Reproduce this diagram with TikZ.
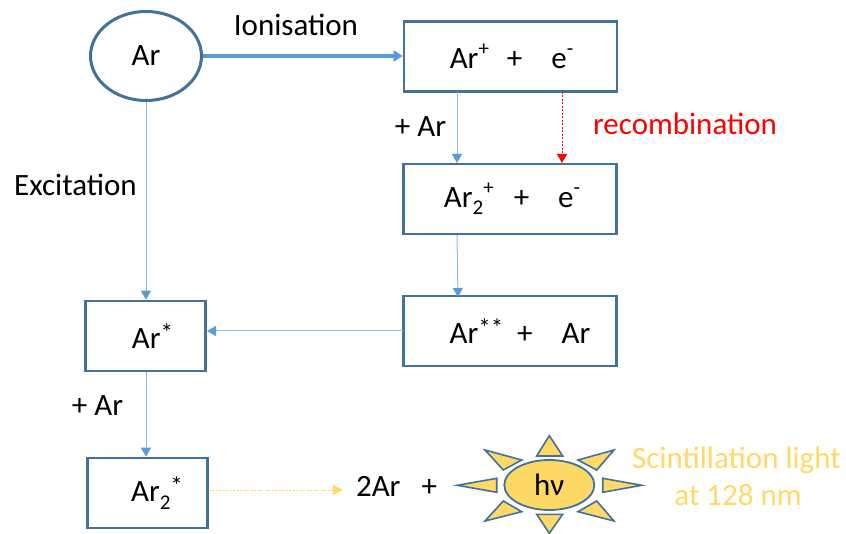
\documentclass[tikz,border=0pt]{standalone}
\usepackage{fontspec}
\setmainfont{Carlito}
\usetikzlibrary{arrows.meta,shapes.geometric}
\definecolor{edgeblue}{HTML}{41719C}
\definecolor{arrowblue}{HTML}{5B9BD5}
\definecolor{lineblue}{HTML}{8FBCE6}
\definecolor{sunyellow}{HTML}{FFD966}
\tikzset{
  x=1pt,y=-1pt,
  txt/.style={inner sep=0pt,font=\fontsize{31}{36}\selectfont,text=black,anchor=center},
  boxnode/.style={draw=edgeblue,line width=2.6pt,fill=white,rectangle,inner sep=0pt,minimum height=70pt,font=\fontsize{31}{36}\selectfont},
  wide/.style={boxnode,minimum width=213pt},
  narrow/.style={boxnode,minimum width=120pt},
  thinarrow/.style={draw=lineblue,line width=1pt,-{Triangle[length=9pt,width=10pt,color=arrowblue]}},
  ray/.style={draw=edgeblue,line width=1.6pt,fill=sunyellow,line join=miter},
}
\newcommand{\supr}[1]{\raisebox{.4em}{\fontsize{21}{21}\selectfont #1}}
\newcommand{\supa}[1]{\raisebox{.22em}{\fontsize{25}{25}\selectfont #1}}
\newcommand{\subr}[1]{\raisebox{-.24em}{\fontsize{21}{21}\selectfont #1}}
\begin{document}
\begin{tikzpicture}
\useasboundingbox (0,0) rectangle (846,534);
% process nodes
\node[draw=edgeblue,line width=3pt,fill=white,ellipse,inner sep=0pt,minimum width=111pt,minimum height=89pt,font=\fontsize{31}{36}\selectfont] (ar) at (146,56) {Ar};
\node[wide] (ion) at (510.5,56.5) {\hspace*{2pt}Ar\supr{+}\hspace{18pt}+\hspace{29pt}e\supr{-}};
\node[wide] (dimer) at (510,199) {\hspace*{4pt}Ar\subr{2}\supr{+}\hspace{20pt}+\hspace{29pt}e\supr{-}};
\node[wide] (ex2) at (510,331) {\hspace*{20pt}Ar\supa{**}\hspace{14pt}+\hspace{29pt}Ar};
\node[narrow] (exc) at (145.5,336) {\hspace*{14pt}Ar\supa{*}};
\node[narrow] (exd) at (147.5,493) {\hspace*{19pt}Ar\subr{2}\supa{*}};
% free ends on the box edges
\coordinate (ionA) at (457,92);
\coordinate (dimA) at (457,163);
\coordinate (ionB) at (562,92);
\coordinate (dimB) at (562,163);
\coordinate (dimC) at (457,235);
\coordinate (exA) at (458,297);
\coordinate (exL) at (403,331);
\coordinate (excR) at (207,331);
% labels
\node[txt] (lion) at (296,25) {Ionisation};
\node[txt] (lexc) at (75.5,185) {Excitation};
\node[txt] (lpa) at (420.5,127) {+ Ar};
\node[txt,text=red] (lrec) at (685,124) {recombination};
\node[txt] (lpb) at (97.5,406) {+ Ar};
\node[txt] (prod) at (396.5,486) {2Ar\hspace{21pt}+};
\node[txt,text=sunyellow] (scia) at (736.5,460) {Scintillation light};
\node[txt,text=sunyellow] (scib) at (738,495) {at 128 nm};
% connectors
\draw[arrowblue,line width=3.2pt,-{Triangle[length=9pt,width=11pt,color=arrowblue]}] (ar.east) -- (ion.west |- ar.east);
\draw[thinarrow] (ionA) -- (dimA);
\draw[draw=red,line width=.8pt,dash pattern=on 2pt off 1.5pt,-{Triangle[length=9pt,width=10pt,color=red]}] (ionB) -- (dimB);
\draw[thinarrow] (dimC) -- (exA);
\draw[thinarrow] (exL) -- (excR);
\draw[thinarrow] (ar.south) -- (exc.north -| ar.south);
\draw[thinarrow] (exc.south -| ar.south) -- (exd.north -| ar.south);
\draw[draw=sunyellow,line width=.8pt,dash pattern=on 2pt off 1.5pt,shorten >=13pt,-{Triangle[length=10pt,width=10pt,color=sunyellow]}] ([yshift=3pt]exd.east) -- ([yshift=-4pt]prod.west);
% sun
\draw[ray] (549.3,435.7) -- (536.7,456) -- (562.7,456) -- cycle;
\draw[ray] (549.3,533.3) -- (536.7,514.3) -- (562.7,514.3) -- cycle;
\draw[ray] (457.3,485.3) -- (496.7,478.3) -- (496.7,492.3) -- cycle;
\draw[ray] (641.7,485.3) -- (602.7,478.3) -- (602.7,492.3) -- cycle;
\draw[ray] (485,450) -- (521.7,460) -- (503.3,470) -- cycle;
\draw[ray] (614,450) -- (578,460) -- (596.7,470) -- cycle;
\draw[ray] (485,521) -- (503.3,501) -- (521.7,511.7) -- cycle;
\draw[ray] (614,521) -- (596.7,501) -- (578,511.7) -- cycle;
\node[draw=edgeblue,line width=1.8pt,fill=sunyellow,ellipse,inner sep=0pt,minimum width=90pt,minimum height=50pt,font=\fontsize{31}{36}\selectfont] (hv) at (549.3,485) {hν};
\end{tikzpicture}
\end{document}
